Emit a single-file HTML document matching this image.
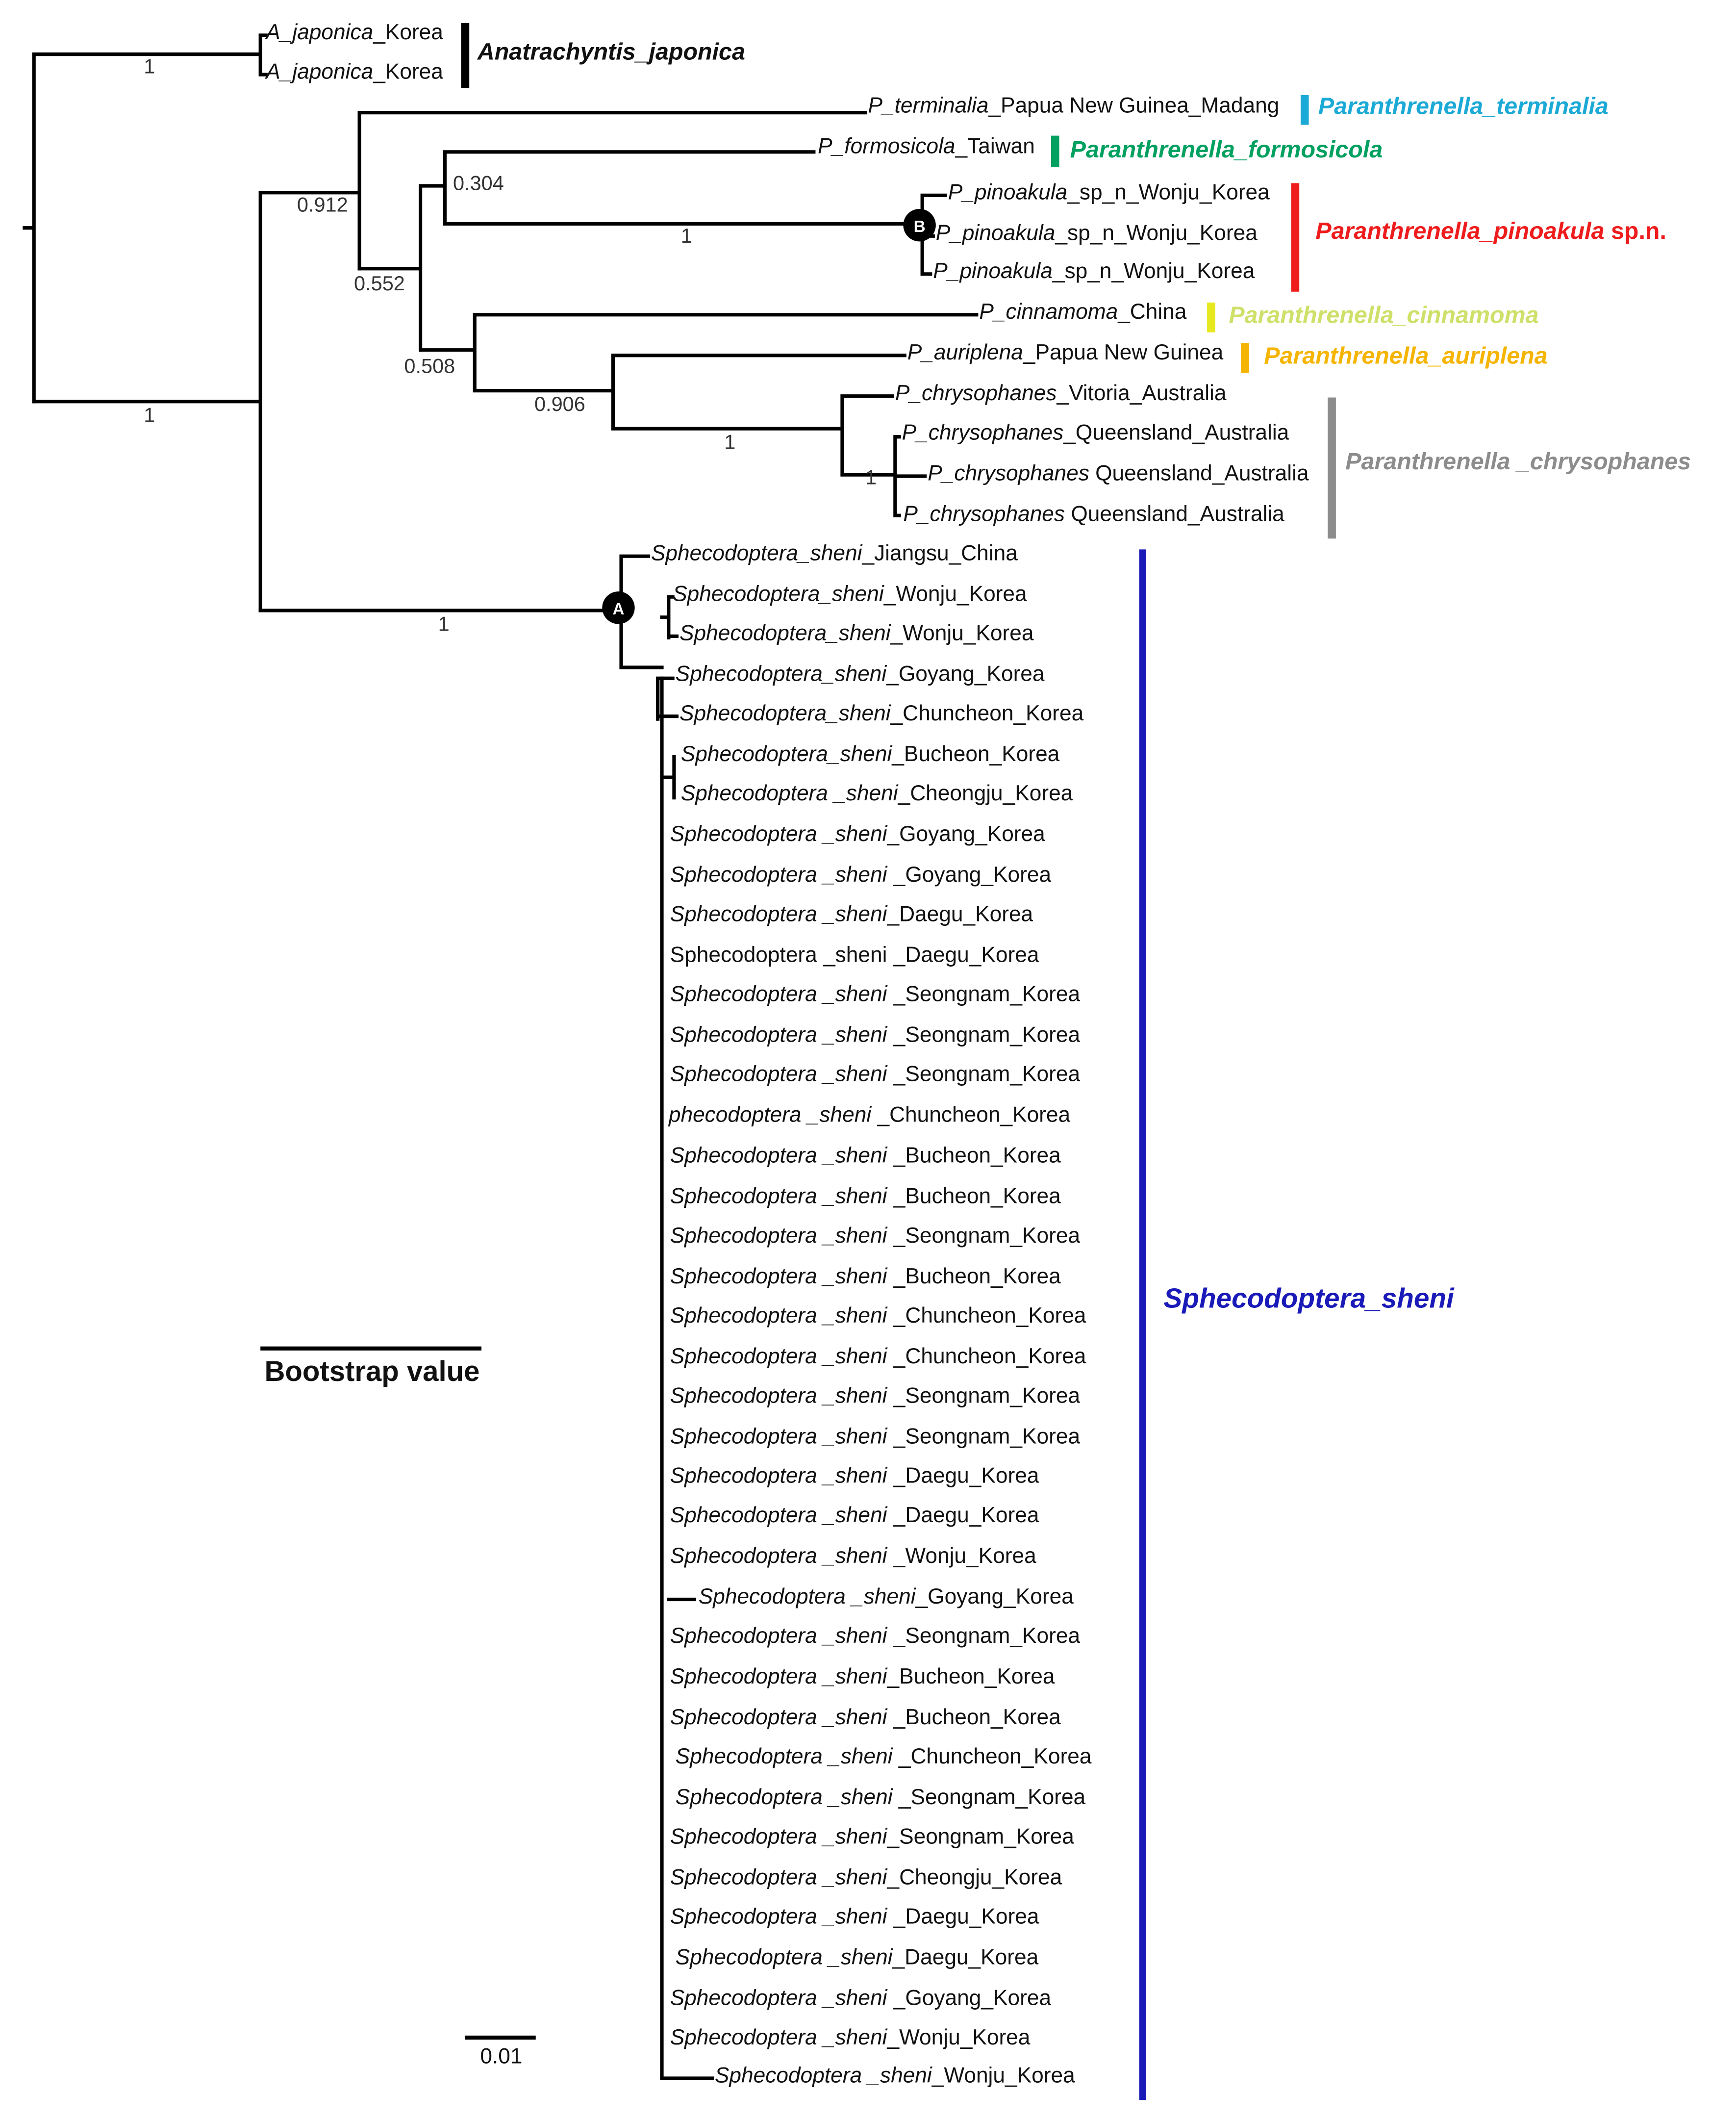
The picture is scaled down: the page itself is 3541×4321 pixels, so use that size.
<!DOCTYPE html>
<html><head><meta charset="utf-8"><style>
html,body{margin:0;padding:0;background:#fff}
svg{display:block}
text{font-family:"Liberation Sans",sans-serif;font-size:16px;fill:#111}
.i{font-style:italic}
.n{font-size:15px;fill:#333}
.c{font-weight:bold;font-style:italic;font-size:17.5px}
</style></head><body>
<svg width="3541" height="4321" viewBox="0 0 1280 1562" xmlns="http://www.w3.org/2000/svg">
<g stroke="#000" stroke-width="2.6" fill="none" stroke-linecap="square">
<path d="M18 168H25M25 40V296M25 40H192M192 26V55M192 26H196M192 55H196"/>
<path d="M25 296H192M192 142V450M192 142H265M265 83V198M265 83H638"/>
<path d="M265 198H310M310 137V258M310 137H328M328 112V165M328 112H600M328 165H677"/>
<path d="M680 144V202M680 144H697M680 174H688M680 202H686"/>
<path d="M310 258H350M350 232V288M350 232H720M350 288H452M452 262V316M452 262H667M452 316H621"/>
<path d="M621 292V350M621 292H658M621 350H660M660 322V380M660 322H663M660 351H682M660 380H663"/>
<path d="M192 450H455M458 410V492M458 410H478M458 492H488"/>
<path d="M488 500V1532M493 440V470M488 455H493M493 440H496M493 469H499"/>
<path d="M485 500V530M485 500H496M485 528H499M497 558V588M488 573H497"/>
<path d="M493 1179H512M488 1532H525"/>
</g>
<circle cx="678" cy="166" r="12" fill="#000"/>
<text x="678" y="171" text-anchor="middle" style="fill:#fff;font-size:12px;font-weight:bold">B</text>
<circle cx="456" cy="448" r="12" fill="#000"/>
<text x="456" y="453" text-anchor="middle" style="fill:#fff;font-size:12px;font-weight:bold">A</text>

<g transform="translate(0,-3)">
<text class="n" x="106" y="57">1</text>
<text class="n" x="106" y="314">1</text>
<text class="n" x="219" y="159">0.912</text>
<text class="n" x="261" y="217">0.552</text>
<text class="n" x="334" y="143">0.304</text>
<text class="n" x="502" y="182">1</text>
<text class="n" x="298" y="278">0.508</text>
<text class="n" x="394" y="306">0.906</text>
<text class="n" x="534" y="334">1</text>
<text class="n" x="638" y="360">1</text>
<text class="n" x="323" y="468">1</text>

<text x="196" y="32"><tspan class="i">A_japonica</tspan>_Korea</text>
<text x="196" y="61"><tspan class="i">A_japonica</tspan>_Korea</text>
<text x="640" y="86"><tspan class="i">P_terminalia</tspan>_Papua New Guinea_Madang</text>
<text x="603" y="116"><tspan class="i">P_formosicola</tspan>_Taiwan</text>
<text x="699" y="150"><tspan class="i">P_pinoakula</tspan>_sp_n_Wonju_Korea</text>
<text x="690" y="180"><tspan class="i">P_pinoakula</tspan>_sp_n_Wonju_Korea</text>
<text x="688" y="208"><tspan class="i">P_pinoakula</tspan>_sp_n_Wonju_Korea</text>
<text x="722" y="238"><tspan class="i">P_cinnamoma</tspan>_China</text>
<text x="669" y="268"><tspan class="i">P_auriplena</tspan>_Papua New Guinea</text>
<text x="660" y="298"><tspan class="i">P_chrysophanes</tspan>_Vitoria_Australia</text>
<text x="665" y="327"><tspan class="i">P_chrysophanes</tspan>_Queensland_Australia</text>
<text x="684" y="357"><tspan class="i">P_chrysophanes</tspan> Queensland_Australia</text>
<text x="666" y="387"><tspan class="i">P_chrysophanes</tspan> Queensland_Australia</text>
<text x="480" y="416"><tspan class="i">Sphecodoptera_sheni</tspan>_Jiangsu_China</text>

<text x="496" y="446"><tspan class="i">Sphecodoptera_sheni</tspan>_Wonju_Korea</text>
<text x="501" y="475"><tspan class="i">Sphecodoptera_sheni</tspan>_Wonju_Korea</text>
<text x="498" y="505"><tspan class="i">Sphecodoptera_sheni</tspan>_Goyang_Korea</text>
<text x="501" y="534"><tspan class="i">Sphecodoptera_sheni</tspan>_Chuncheon_Korea</text>
<text x="502" y="564"><tspan class="i">Sphecodoptera_sheni</tspan>_Bucheon_Korea</text>
<text x="502" y="593"><tspan class="i">Sphecodoptera _sheni</tspan>_Cheongju_Korea</text>
<text x="494" y="623"><tspan class="i">Sphecodoptera _sheni</tspan>_Goyang_Korea</text>
<text x="494" y="653"><tspan class="i">Sphecodoptera _sheni</tspan> _Goyang_Korea</text>
<text x="494" y="682"><tspan class="i">Sphecodoptera _sheni</tspan>_Daegu_Korea</text>
<text x="494" y="712">Sphecodoptera _sheni _Daegu_Korea</text>
<text x="494" y="741"><tspan class="i">Sphecodoptera _sheni</tspan> _Seongnam_Korea</text>
<text x="494" y="771"><tspan class="i">Sphecodoptera _sheni</tspan> _Seongnam_Korea</text>
<text x="494" y="800"><tspan class="i">Sphecodoptera _sheni</tspan> _Seongnam_Korea</text>
<text x="493" y="830"><tspan class="i">phecodoptera _sheni</tspan> _Chuncheon_Korea</text>
<text x="494" y="860"><tspan class="i">Sphecodoptera _sheni</tspan> _Bucheon_Korea</text>
<text x="494" y="890"><tspan class="i">Sphecodoptera _sheni</tspan> _Bucheon_Korea</text>
<text x="494" y="919"><tspan class="i">Sphecodoptera _sheni</tspan> _Seongnam_Korea</text>
<text x="494" y="949"><tspan class="i">Sphecodoptera _sheni</tspan> _Bucheon_Korea</text>
<text x="494" y="978"><tspan class="i">Sphecodoptera _sheni</tspan> _Chuncheon_Korea</text>
<text x="494" y="1008"><tspan class="i">Sphecodoptera _sheni</tspan> _Chuncheon_Korea</text>
<text x="494" y="1037"><tspan class="i">Sphecodoptera _sheni</tspan> _Seongnam_Korea</text>
<text x="494" y="1067"><tspan class="i">Sphecodoptera _sheni</tspan> _Seongnam_Korea</text>
<text x="494" y="1096"><tspan class="i">Sphecodoptera _sheni</tspan> _Daegu_Korea</text>
<text x="494" y="1125"><tspan class="i">Sphecodoptera _sheni</tspan> _Daegu_Korea</text>
<text x="494" y="1155"><tspan class="i">Sphecodoptera _sheni</tspan> _Wonju_Korea</text>
<text x="515" y="1185"><tspan class="i">Sphecodoptera _sheni</tspan>_Goyang_Korea</text>
<text x="494" y="1214"><tspan class="i">Sphecodoptera _sheni</tspan> _Seongnam_Korea</text>
<text x="494" y="1244"><tspan class="i">Sphecodoptera _sheni</tspan>_Bucheon_Korea</text>
<text x="494" y="1274"><tspan class="i">Sphecodoptera _sheni</tspan> _Bucheon_Korea</text>
<text x="498" y="1303"><tspan class="i">Sphecodoptera _sheni</tspan> _Chuncheon_Korea</text>
<text x="498" y="1333"><tspan class="i">Sphecodoptera _sheni</tspan> _Seongnam_Korea</text>
<text x="494" y="1362"><tspan class="i">Sphecodoptera _sheni</tspan>_Seongnam_Korea</text>
<text x="494" y="1392"><tspan class="i">Sphecodoptera _sheni</tspan>_Cheongju_Korea</text>
<text x="494" y="1421"><tspan class="i">Sphecodoptera _sheni</tspan> _Daegu_Korea</text>
<text x="498" y="1451"><tspan class="i">Sphecodoptera _sheni</tspan>_Daegu_Korea</text>
<text x="494" y="1481"><tspan class="i">Sphecodoptera _sheni</tspan> _Goyang_Korea</text>
<text x="494" y="1510"><tspan class="i">Sphecodoptera _sheni</tspan>_Wonju_Korea</text>
<text x="527" y="1538"><tspan class="i">Sphecodoptera _sheni</tspan>_Wonju_Korea</text>

<text class="c" x="352" y="47">Anatrachyntis_japonica</text>
<text class="c" x="972" y="87" style="fill:#1ba9d6">Paranthrenella_terminalia</text>
<text class="c" x="789" y="119" style="fill:#00a060">Paranthrenella_formosicola</text>
<text class="c" x="970" y="179" style="fill:#ee1c1c">Paranthrenella_pinoakula <tspan style="font-style:normal">sp.n.</tspan></text>
<text class="c" x="906" y="241" style="fill:#cfe06a">Paranthrenella_cinnamoma</text>
<text class="c" x="932" y="271" style="fill:#f5b400">Paranthrenella_auriplena</text>
<text class="c" x="992" y="349" style="fill:#8c8c8c">Paranthrenella _chrysophanes</text>
<text class="c" x="858" y="967" style="fill:#1a1ab8;font-size:20.5px">Sphecodoptera_sheni</text>
<text x="195" y="1021" style="font-weight:bold;font-size:21px">Bootstrap value</text>
<text x="354" y="1524" style="font-size:16px">0.01</text>
</g>

<rect x="340" y="17" width="6" height="48" fill="#000"/>
<rect x="959" y="70" width="6" height="22" fill="#1ba9d6"/>
<rect x="775" y="100" width="6" height="23" fill="#00a060"/>
<rect x="952" y="135" width="6" height="80" fill="#ee1c1c"/>
<rect x="890" y="223" width="6" height="22" fill="#e8e820"/>
<rect x="915" y="253" width="6" height="22" fill="#f5b400"/>
<rect x="979" y="293" width="6" height="104" fill="#8c8c8c"/>
<rect x="840" y="405" width="5" height="1143" fill="#1a1ab8"/>

<line x1="192" y1="994" x2="355" y2="994" stroke="#000" stroke-width="3"/>
<line x1="343" y1="1502" x2="395" y2="1502" stroke="#000" stroke-width="3"/>
</svg>
</body></html>
